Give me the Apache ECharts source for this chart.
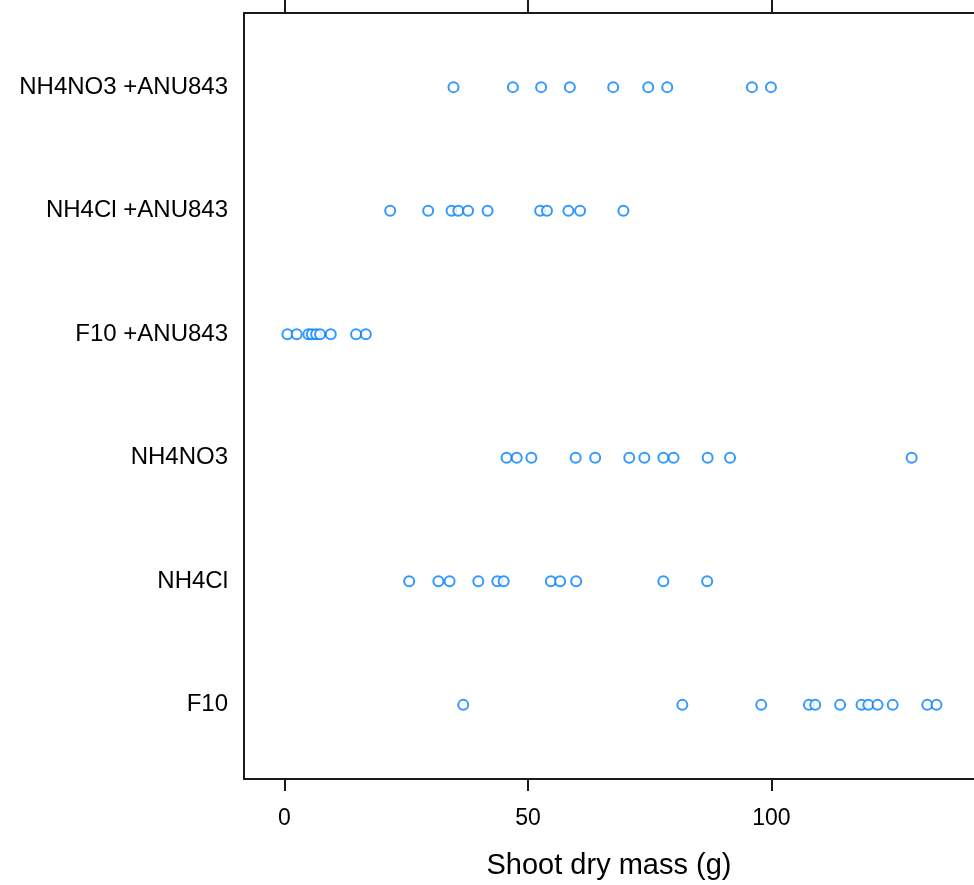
<!DOCTYPE html>
<html>
<head>
<meta charset="utf-8">
<script src="https://cdn.jsdelivr.net/npm/echarts@6/dist/echarts.min.js"></script>
<style>html,body{margin:0;padding:0;background:#fff}#c{width:974px;height:885px}</style>
</head>
<body>
<div id="c"></div>
<script>
const categories = ['F10', 'NH4Cl', 'NH4NO3', 'F10 +ANU843', 'NH4Cl +ANU843', 'NH4NO3 +ANU843'];
const xTicks = [0, 50, 100];
const F10 = [36.7, 81.7, 97.9, 107.7, 109.0, 114.1, 118.5, 119.9, 121.8, 124.9, 132.0, 133.9];
const NH4Cl = [25.6, 31.6, 33.9, 39.8, 43.7, 45.0, 54.7, 56.6, 59.9, 77.8, 86.8];
const NH4NO3 = [45.6, 47.7, 50.7, 59.8, 63.8, 70.8, 73.9, 77.8, 79.9, 86.9, 91.5, 128.8];
const F10_ANU843 = [0.6, 2.5, 4.9, 5.6, 6.5, 7.3, 9.5, 14.7, 16.7];
const NH4Cl_ANU843 = [21.7, 29.5, 34.3, 35.7, 37.7, 41.7, 52.5, 53.9, 58.3, 60.7, 69.6];
const NH4NO3_ANU843 = [34.7, 46.9, 52.7, 58.6, 67.5, 74.7, 78.6, 96.0, 99.9];

const groups = [F10, NH4Cl, NH4NO3, F10_ANU843, NH4Cl_ANU843, NH4NO3_ANU843];
const points = [];
groups.forEach((g, i) => g.forEach(v => points.push([v, i + 1])));

const font = 'Liberation Sans, Arial, sans-serif';
const lineStyle = { color: '#1a1a1a', width: 2 };
const chart = echarts.init(document.getElementById('c'));
chart.setOption({
  animation: false,
  grid: { left: 244, top: 13, bottom: 103, right: 0, show: false },
  xAxis: [{
    type: 'value', min: -8.32, max: 141.6, position: 'bottom',
    name: 'Shoot dry mass (g)', nameLocation: 'middle', nameGap: 72,
    nameTextStyle: { fontSize: 29, color: '#000', fontFamily: font },
    axisLine: { show: true, onZero: false, lineStyle: lineStyle },
    axisTick: { show: true, length: 12, inside: false, customValues: xTicks, lineStyle: lineStyle },
    axisLabel: { customValues: xTicks, margin: 28, fontSize: 23, color: '#000', fontFamily: font },
    splitLine: { show: false }
  }, {
    type: 'value', min: -8.32, max: 141.6, position: 'top',
    axisLine: { show: true, onZero: false, lineStyle: lineStyle },
    axisTick: { show: true, length: 13, customValues: xTicks, lineStyle: lineStyle },
    axisLabel: { show: false },
    splitLine: { show: false }
  }],
  yAxis: {
    type: 'value', min: 0.4, max: 6.6, position: 'left',
    axisLine: { show: true, onZero: false, lineStyle: lineStyle }, axisTick: { show: false }, splitLine: { show: false },
    axisLabel: {
      customValues: [1, 2, 3, 4, 5, 6], margin: 16, fontSize: 24, color: '#000', fontFamily: font,
      formatter: v => categories[Math.round(v) - 1] || ''
    }
  },
  series: [{
    type: 'scatter', xAxisIndex: 0, data: points,
    symbol: 'emptyCircle', symbolSize: 10,
    itemStyle: { color: '#0080ff', borderColor: '#1a88ff', borderWidth: 1.6 }
  }]
});
</script>
</body>
</html>
